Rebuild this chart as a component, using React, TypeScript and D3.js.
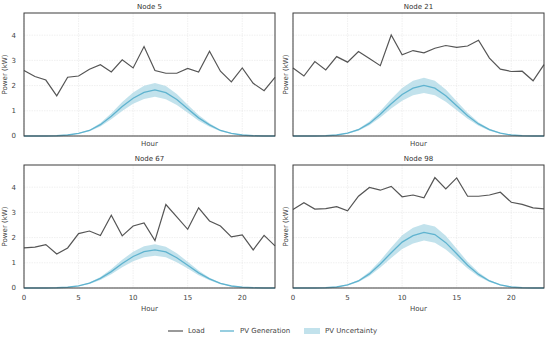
import { useRef, useEffect } from 'react';
import * as d3 from 'd3';

const hours = d3.range(0, 24);
const nodeNames = ['Node 5', 'Node 21', 'Node 67', 'Node 98'];

const load5 = [2.6, 2.36, 2.22, 1.59, 2.33, 2.38, 2.65, 2.83, 2.54, 3.02, 2.7, 3.55, 2.6, 2.49, 2.49, 2.68, 2.54, 3.36, 2.57, 2.15, 2.7, 2.09, 1.8, 2.33];
const load21 = [2.7, 2.38, 2.95, 2.62, 3.15, 2.93, 3.35, 3.07, 2.79, 4.01, 3.22, 3.39, 3.3, 3.48, 3.59, 3.52, 3.57, 3.8, 3.09, 2.65, 2.56, 2.57, 2.19, 2.83];
const load67 = [1.59, 1.62, 1.72, 1.35, 1.59, 2.16, 2.26, 2.08, 2.89, 2.07, 2.46, 2.58, 1.88, 3.31, 2.82, 2.33, 3.18, 2.66, 2.46, 2.03, 2.11, 1.51, 2.09, 1.67];
const load98 = [3.11, 3.38, 3.13, 3.15, 3.23, 3.06, 3.64, 3.99, 3.88, 4.03, 3.62, 3.69, 3.58, 4.38, 3.93, 4.37, 3.64, 3.64, 3.69, 3.8, 3.4, 3.32, 3.18, 3.14];

const pv5 = [0, 0, 0, 0.01, 0.04, 0.1, 0.22, 0.45, 0.78, 1.17, 1.5, 1.73, 1.83, 1.72, 1.45, 1.08, 0.72, 0.44, 0.22, 0.1, 0.04, 0.01, 0, 0];
const pv5Hi = [0, 0, 0, 0.01, 0.05, 0.12, 0.25, 0.52, 0.9, 1.35, 1.73, 1.99, 2.1, 1.98, 1.67, 1.24, 0.83, 0.51, 0.25, 0.12, 0.05, 0.01, 0, 0];
const pv5Lo = [0, 0, 0, 0.01, 0.03, 0.09, 0.19, 0.38, 0.66, 0.99, 1.28, 1.47, 1.56, 1.46, 1.23, 0.92, 0.61, 0.37, 0.19, 0.09, 0.03, 0.01, 0, 0];

const pv21 = [0, 0, 0, 0.01, 0.04, 0.11, 0.25, 0.5, 0.86, 1.28, 1.65, 1.9, 2.01, 1.9, 1.6, 1.2, 0.8, 0.48, 0.25, 0.11, 0.04, 0.01, 0, 0];
const pv21Hi = [0, 0, 0, 0.01, 0.05, 0.13, 0.29, 0.58, 0.99, 1.47, 1.9, 2.19, 2.31, 2.19, 1.84, 1.38, 0.92, 0.55, 0.29, 0.13, 0.05, 0.01, 0, 0];
const pv21Lo = [0, 0, 0, 0.01, 0.03, 0.09, 0.21, 0.43, 0.73, 1.09, 1.4, 1.62, 1.71, 1.62, 1.36, 1.02, 0.68, 0.41, 0.21, 0.09, 0.03, 0.01, 0, 0];

const pv67 = [0, 0, 0, 0.01, 0.03, 0.08, 0.19, 0.38, 0.65, 0.97, 1.25, 1.44, 1.51, 1.43, 1.2, 0.9, 0.6, 0.36, 0.18, 0.08, 0.03, 0.01, 0, 0];
const pv67Hi = [0, 0, 0, 0.01, 0.03, 0.09, 0.22, 0.44, 0.75, 1.12, 1.44, 1.66, 1.74, 1.64, 1.38, 1.04, 0.69, 0.41, 0.21, 0.09, 0.03, 0.01, 0, 0];
const pv67Lo = [0, 0, 0, 0.01, 0.03, 0.07, 0.16, 0.32, 0.55, 0.82, 1.06, 1.22, 1.28, 1.22, 1.02, 0.77, 0.51, 0.31, 0.15, 0.07, 0.03, 0.01, 0, 0];

const pv98 = [0, 0, 0, 0.01, 0.04, 0.12, 0.28, 0.56, 0.95, 1.4, 1.82, 2.08, 2.21, 2.12, 1.8, 1.36, 0.9, 0.54, 0.28, 0.12, 0.04, 0.01, 0, 0];
const pv98Hi = [0, 0, 0, 0.01, 0.05, 0.14, 0.32, 0.64, 1.09, 1.61, 2.09, 2.39, 2.54, 2.44, 2.07, 1.56, 1.04, 0.62, 0.32, 0.14, 0.05, 0.01, 0, 0];
const pv98Lo = [0, 0, 0, 0.01, 0.03, 0.1, 0.24, 0.48, 0.81, 1.19, 1.55, 1.77, 1.88, 1.8, 1.53, 1.16, 0.77, 0.46, 0.24, 0.1, 0.03, 0.01, 0, 0];

const xTicks = [0, 5, 10, 15, 20];
const yTicks = [0, 1, 2, 3, 4];
const legendLabels = ['Load', 'PV Generation', 'PV Uncertainty'];

const LOAD_COLOR = '#555555';
const PV_COLOR = '#5fb3cf';
const BAND_COLOR = '#add8e6';
const FONT = 'DejaVu Sans, sans-serif';

export default function App() {
  const svgRef = useRef<SVGSVGElement>(null);

  useEffect(() => {
    if (!svgRef.current) return;
    const svg = d3.select(svgRef.current);
    svg.selectAll('*').remove();

    const panels = [
      { name: nodeNames[0], load: load5, pv: pv5, hi: pv5Hi, lo: pv5Lo },
      { name: nodeNames[1], load: load21, pv: pv21, hi: pv21Hi, lo: pv21Lo },
      { name: nodeNames[2], load: load67, pv: pv67, hi: pv67Hi, lo: pv67Lo },
      { name: nodeNames[3], load: load98, pv: pv98, hi: pv98Hi, lo: pv98Lo },
    ];

    const cols = [24, 293];
    const rows = [13, 165];
    const pw = 251;
    const ph = 123;

    const x = d3.scaleLinear().domain([0, 23]).range([0, pw]);
    const y = d3.scaleLinear().domain([0, 4.88]).range([ph, 0]);

    panels.forEach((p, i) => {
      const col = i % 2;
      const row = Math.floor(i / 2);
      const g = svg.append('g').attr('transform', `translate(${cols[col]},${rows[row]})`);

      // grid
      g.append('g').selectAll('line').data(xTicks).join('line')
        .attr('x1', (d) => x(d)).attr('x2', (d) => x(d)).attr('y1', 0).attr('y2', ph)
        .attr('stroke', '#e6e6e6').attr('stroke-width', 0.6).attr('stroke-dasharray', '1.5,1');
      g.append('g').selectAll('line').data(yTicks).join('line')
        .attr('x1', 0).attr('x2', pw).attr('y1', (d) => y(d)).attr('y2', (d) => y(d))
        .attr('stroke', '#e6e6e6').attr('stroke-width', 0.6).attr('stroke-dasharray', '1.5,1');

      const area = d3.area<number>()
        .x((_, j) => x(hours[j]))
        .y0((_, j) => y(p.lo[j]))
        .y1((d) => y(d));
      g.append('path').datum(p.hi).attr('d', area)
        .attr('fill', BAND_COLOR).attr('fill-opacity', 0.75);

      const line = d3.line<number>().x((_, j) => x(hours[j])).y((d) => y(d));
      g.append('path').datum(p.pv).attr('d', line)
        .attr('fill', 'none').attr('stroke', PV_COLOR).attr('stroke-width', 1.3);
      g.append('path').datum(p.load).attr('d', line)
        .attr('fill', 'none').attr('stroke', LOAD_COLOR).attr('stroke-width', 1.2);

      g.append('rect').attr('width', pw).attr('height', ph)
        .attr('fill', 'none').attr('stroke', '#3c3c3c').attr('stroke-width', 1);

      // y ticks on left column only (shared y)
      if (col === 0) {
        g.append('g').selectAll('text').data(yTicks).join('text')
          .attr('x', -8).attr('y', (d) => y(d)).attr('dy', '0.35em')
          .attr('text-anchor', 'end').attr('font-size', 7).attr('fill', '#444')
          .attr('font-family', FONT).text((d) => d);
      }
      g.append('text')
        .attr('transform', `translate(${col === 0 ? -17 : -5},${ph / 2}) rotate(-90)`)
        .attr('text-anchor', 'middle').attr('font-size', 7).attr('fill', '#444')
        .attr('font-family', FONT).text('Power (kW)');

      if (row === 1) {
        g.append('g').selectAll('text').data(xTicks).join('text')
          .attr('x', (d) => x(d)).attr('y', ph + 12)
          .attr('text-anchor', 'middle').attr('font-size', 7).attr('fill', '#444')
          .attr('font-family', FONT).text((d) => d);
      }
      g.append('text').attr('x', pw / 2).attr('y', row === 1 ? ph + 23 : ph + 10)
        .attr('text-anchor', 'middle').attr('font-size', 7).attr('fill', '#444')
        .attr('font-family', FONT).text('Hour');

      g.append('text').attr('x', pw / 2).attr('y', -4)
        .attr('text-anchor', 'middle').attr('font-size', 7).attr('fill', '#333')
        .attr('font-family', FONT).text(p.name);
    });

    // legend
    const lg = svg.append('g').attr('transform', 'translate(0,331)');
    const itemX = [168, 220, 304];
    legendLabels.forEach((lab, i) => {
      const it = lg.append('g').attr('transform', `translate(${itemX[i]},0)`);
      if (i === 0) it.append('line').attr('x1', 0).attr('x2', 15).attr('stroke', LOAD_COLOR).attr('stroke-width', 1.2);
      if (i === 1) it.append('line').attr('x1', 0).attr('x2', 14).attr('stroke', PV_COLOR).attr('stroke-width', 1.3);
      if (i === 2) it.append('rect').attr('x', 0).attr('y', -3).attr('width', 16).attr('height', 6).attr('fill', BAND_COLOR).attr('fill-opacity', 0.75);
      it.append('text').attr('x', i === 2 ? 21 : 20).attr('y', 0).attr('dy', '0.35em')
        .attr('font-size', 7).attr('fill', '#444').attr('font-family', FONT).text(lab);
    });
  }, []);

  return (
    <svg ref={svgRef} width={550} height={337}
      style={{ position: 'absolute', left: 0, top: 0, background: '#fff' }} />
  );
}
